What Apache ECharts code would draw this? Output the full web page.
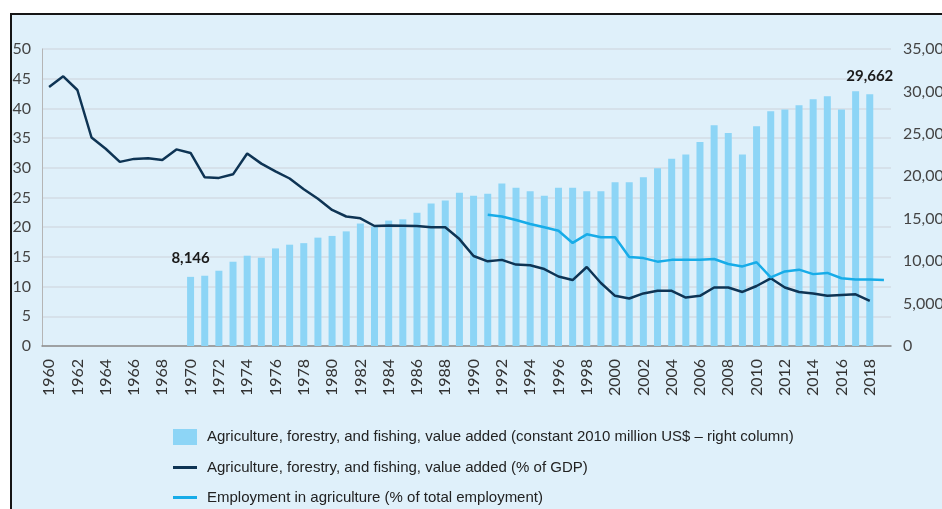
<!DOCTYPE html>
<html lang="en">
<head>
    <meta charset="UTF-8">
    <title>Agriculture value added and employment</title>
    <script src="https://cdn.jsdelivr.net/npm/echarts@6/dist/echarts.min.js"></script>
    <style>
        html, body { margin: 0; padding: 0; background: #fff; overflow: hidden; width: 942px; height: 509px; }
        .frame {
            position: absolute; left: 10px; top: 13px; right: 0; bottom: 0;
            background: #dff0fa; border-left: 2px solid #151515; border-top: 2px solid #151515;
        }
        #chart { position: absolute; left: 0; top: 0; width: 942px; height: 509px; }
    </style>
</head>
<body>
<div class="frame"></div>
<div id="chart"></div>
<script>
    // years 1960 - 2019
    var years = [];
    for (var y = 1960; y <= 2019; y++) years.push(String(y));

    // constant 2010 million US$ (right axis), 1960-2019
    var valueAdded = [
        null, null, null, null, null, null, null, null, null, null,
        8146, 8280, 8870, 9930, 10640, 10400, 11500, 11940, 12120, 12770,
        12970, 13510, 14430, 14070, 14780, 14930, 15690, 16790, 17140, 18050,
        17700, 17940, 19150, 18640, 18250, 17700, 18640, 18640, 18250, 18250,
        19300, 19300, 19900, 20960, 22070, 22580, 24030, 26000, 25100, 22580,
        25890, 27660, 27860, 28370, 29080, 29430, 27860, 30030, 29662, null
    ];

    // value added, % of GDP
    var gdpShare = [
        43.6, 45.4, 43.1, 35.1, 33.2, 31.0, 31.5, 31.6, 31.3, 33.1,
        32.5, 28.4, 28.3, 28.9, 32.4, 30.7, 29.4, 28.2, 26.4, 24.8,
        22.9, 21.8, 21.5, 20.2, 20.3, 20.25, 20.2, 20.0, 20.0, 18.0,
        15.15, 14.25, 14.5, 13.7, 13.6, 12.95, 11.7, 11.1, 13.3, 10.6,
        8.45, 8.0, 8.85, 9.3, 9.3, 8.15, 8.45, 9.85, 9.85, 9.1,
        10.1, 11.4, 9.85, 9.1, 8.85, 8.45, 8.6, 8.7, 7.6, null
    ];

    // employment in agriculture, % of total employment
    var employment = [
        null, null, null, null, null, null, null, null, null, null,
        null, null, null, null, null, null, null, null, null, null,
        null, null, null, null, null, null, null, null, null, null,
        null, 22.1, 21.8, 21.2, 20.55, 20.0, 19.4, 17.35, 18.8, 18.3,
        18.3, 15.0, 14.8, 14.2, 14.5, 14.5, 14.5, 14.65, 13.8, 13.4,
        14.1, 11.55, 12.55, 12.85, 12.1, 12.3, 11.4, 11.2, 11.2, 11.1
    ];

    var labelledYears = ['1970', '2018'];

    var legendNames = [
        'Agriculture, forestry, and fishing, value added (constant 2010 million US$ \u2013 right column)',
        'Agriculture, forestry, and fishing, value added (% of GDP)',
        'Employment in agriculture (% of total employment)'
    ];

    var font = '"Liberation Sans", Arial, sans-serif';
    var axisFont = 'Lato, "Noto Sans", sans-serif';

    var barData = valueAdded.map(function (v, i) {
        if (labelledYears.indexOf(years[i]) >= 0) {
            return {
                value: v,
                label: {
                    show: true, position: 'top', distance: 11,
                    fontFamily: axisFont, fontWeight: 'bold', fontSize: 15, color: '#1a1a1a',
                    formatter: function (p) { return p.value.toLocaleString('en-US'); }
                }
            };
        }
        return v;
    });

    var myChart = echarts.init(document.getElementById('chart'));
    var option = {
        backgroundColor: 'transparent',
        animation: false,
        textStyle: { fontFamily: font },
        grid: { left: 42, right: 51, top: 49, bottom: 163, containLabel: false, outerBoundsMode: 'none' },
        legend: {
            orient: 'vertical',
            left: 173,
            top: 429,
            height: 80,
            padding: 0,
            itemGap: 15,
            itemWidth: 24,
            itemHeight: 16,
            textStyle: { fontFamily: font, fontSize: 15, color: '#222', padding: [0, 0, 0, 5] },
            data: [
                { name: legendNames[0], icon: 'rect' },
                { name: legendNames[1], icon: 'path://M0,6 L24,6 L24,9 L0,9 Z' },
                { name: legendNames[2], icon: 'path://M0,6 L24,6 L24,9 L0,9 Z' }
            ]
        },
        xAxis: {
            type: 'category',
            data: years,
            boundaryGap: true,
            axisLine: { lineStyle: { color: '#8c8c8c', width: 1.5 } },
            axisTick: { show: false },
            axisLabel: {
                interval: 1, rotate: 90, margin: 13,
                fontFamily: axisFont, fontSize: 16, color: '#333'
            }
        },
        yAxis: [
            {
                type: 'value', min: 0, max: 50, interval: 5,
                axisLine: { show: true, lineStyle: { color: '#b5b5b5' } },
                axisTick: { show: false },
                axisLabel: { margin: 11, fontFamily: axisFont, fontSize: 16, color: '#444' },
                splitLine: { lineStyle: { color: '#d3dde4', width: 1.5 } }
            },
            {
                type: 'value', min: 0, max: 35000, interval: 5000, position: 'right',
                axisLine: { show: false },
                axisTick: { show: false },
                axisLabel: {
                    margin: 12, fontFamily: axisFont, fontSize: 16, color: '#444',
                    formatter: function (v) { return v.toLocaleString('en-US'); }
                },
                splitLine: { show: false }
            }
        ],
        series: [
            {
                name: legendNames[0],
                type: 'bar',
                yAxisIndex: 1,
                barWidth: 7,
                itemStyle: { color: '#8dd5f6' },
                data: barData
            },
            {
                name: legendNames[1],
                type: 'line',
                yAxisIndex: 0,
                symbol: 'none',
                lineStyle: { color: '#0e3454', width: 2.5 },
                itemStyle: { color: '#0e3454' },
                data: gdpShare
            },
            {
                name: legendNames[2],
                type: 'line',
                yAxisIndex: 0,
                symbol: 'none',
                lineStyle: { color: '#17ace8', width: 2.5 },
                itemStyle: { color: '#17ace8' },
                data: employment
            }
        ]
    };
    myChart.setOption(option);
</script>
</body>
</html>
